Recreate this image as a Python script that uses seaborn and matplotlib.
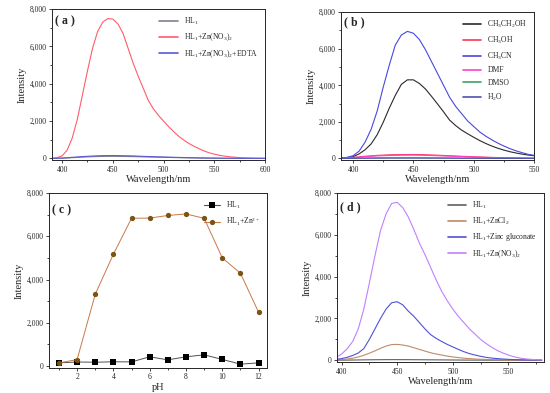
import numpy as np
import pandas as pd
import matplotlib
matplotlib.use('Agg')
import matplotlib.pyplot as plt
from matplotlib.ticker import MultipleLocator, FuncFormatter
import seaborn as sns

sns.set_style('ticks')
plt.rcParams['font.family'] = ['Liberation Serif', 'DejaVu Serif']
plt.rcParams['mathtext.fontset'] = 'custom'
plt.rcParams['mathtext.rm'] = 'Liberation Serif'
plt.rcParams['mathtext.it'] = 'Liberation Serif:italic'

# ---- panel (a) data, 5 nm steps ----
wl_a = np.arange(390, 605, 5)
a_zn = [10, 40, 140, 450, 1100, 2100, 3400, 4700, 5900, 6800, 7300, 7490, 7460, 7200,
        6700, 5900, 5100, 4400, 3750, 3100, 2650, 2300, 2000, 1700, 1430, 1180, 980,
        800, 650, 520, 400, 300, 230, 170, 125, 90, 65, 45, 32, 22, 15, 10, 7]
wl_a_low = np.arange(390, 610, 10)
a_hl = [5, 15, 40, 70, 95, 110, 115, 108, 100, 85, 72, 60, 48, 37, 28, 20, 14, 10, 7,
        5, 4, 3]
a_edta = [5, 20, 60, 100, 130, 150, 155, 145, 135, 112, 95, 78, 62, 48, 36, 26, 18,
          12, 8, 6, 4, 3]
labels_a = [r'HL$_1$', r'HL$_1$+Zn(NO$_3$)$_2$', r'HL$_1$+Zn(NO$_3$)$_2$+EDTA']

# ---- panel (b) data ----
wl_b = np.arange(390, 555, 5)
b_mecn = [20, 60, 150, 400, 900, 1600, 2600, 3900, 5100, 6200, 6750, 6950, 6850, 6500,
          5950, 5300, 4650, 4000, 3350, 2850, 2450, 2050, 1750, 1450, 1220, 1020, 840,
          680, 540, 420, 320, 230, 170]
b_etoh = [20, 50, 100, 250, 480, 800, 1300, 1980, 2750, 3450, 4050, 4300, 4300, 4100,
          3800, 3400, 2980, 2550, 2100, 1800, 1550, 1350, 1160, 980, 820, 680, 560,
          460, 370, 300, 240, 190, 150]
wl_b_low = np.arange(390, 560, 10)
b_meoh = [20, 60, 120, 170, 200, 215, 220, 205, 180, 150, 120, 95, 70, 50, 35, 25, 15]
b_dmf = [15, 50, 100, 140, 165, 180, 185, 172, 150, 125, 100, 78, 58, 42, 30, 20, 12]
b_dmso = [5, 15, 25, 32, 36, 38, 38, 35, 31, 27, 22, 18, 14, 10, 8, 6, 4]
b_h2o = [3, 8, 14, 18, 21, 22, 22, 20, 18, 15, 12, 10, 8, 6, 5, 4, 3]
labels_b = [r'CH$_3$CH$_2$OH', r'CH$_3$OH', r'CH$_3$CN', 'DMF', 'DMSO', r'H$_2$O']

# ---- panel (c) data ----
ph = [1, 2, 3, 4, 5, 6, 7, 8, 9, 10, 11, 12]
c_hl = [150, 190, 180, 200, 195, 430, 290, 430, 520, 310, 90, 150]
c_zn = [150, 300, 3320, 5170, 6830, 6840, 6960, 7030, 6830, 5000, 4290, 2490]
labels_c = [r'HL$_1$', r'HL$_1$+Zn$^{2+}$']

# ---- panel (d) data ----
wl_d = np.arange(390, 585, 5)
d_no3 = [60, 130, 300, 550, 900, 1500, 2450, 3700, 5000, 6200, 7000, 7500, 7550, 7300,
         6850, 6250, 5600, 5050, 4450, 3850, 3300, 2850, 2450, 2100, 1800, 1500, 1250,
         1000, 800, 620, 470, 350, 250, 170, 110, 70, 45, 30, 20]
d_glu = [20, 45, 80, 140, 230, 350, 560, 1000, 1500, 2000, 2450, 2750, 2800, 2650,
         2350, 2100, 1800, 1500, 1230, 1050, 900, 760, 640, 520, 410, 320, 250, 190,
         140, 105, 80, 60, 45, 32, 24, 18, 13, 10, 8]
d_cl = [5, 15, 30, 60, 100, 160, 240, 340, 450, 570, 680, 750, 760, 730, 680, 600, 520,
        440, 360, 300, 250, 200, 160, 130, 100, 80, 60, 48, 38, 30, 23, 18, 14, 10, 8,
        6, 5, 4, 3]
wl_d_low = np.arange(390, 590, 10)
d_hl = [2, 5, 12, 20, 26, 30, 31, 29, 26, 22, 18, 14, 10, 8, 6, 4, 3, 2, 1, 1]
labels_d = [r'HL$_1$', r'HL$_1$+ZnCl$_2$', r'HL$_1$+Zinc gluconate', r'HL$_1$+Zn(NO$_3$)$_2$']


def long_df(pairs, labels):
    parts = [pd.DataFrame({'x': x, 'y': y, 'series': lab}) for (x, y), lab in zip(pairs, labels)]
    return pd.concat(parts, ignore_index=True)


df_a = long_df([(wl_a_low, a_hl), (wl_a, a_zn), (wl_a_low, a_edta)], labels_a)
df_b = long_df([(wl_b, b_etoh), (wl_b_low, b_meoh), (wl_b, b_mecn), (wl_b_low, b_dmf),
                (wl_b_low, b_dmso), (wl_b_low, b_h2o)], labels_b)
df_c = long_df([(ph, c_hl), (ph, c_zn)], labels_c)
df_d = long_df([(wl_d_low, d_hl), (wl_d, d_cl), (wl_d, d_glu), (wl_d, d_no3)], labels_d)

fig = plt.figure(figsize=(5.5, 3.93), dpi=100)
ax_a = fig.add_axes([0.0945, 0.593, 0.3875, 0.384])
ax_b = fig.add_axes([0.62, 0.593, 0.351, 0.376])
ax_c = fig.add_axes([0.089, 0.064, 0.396, 0.445])
ax_d = fig.add_axes([0.613, 0.079, 0.376, 0.430])

fmt = FuncFormatter(lambda v, p: f'{int(v):,}')


def style(ax, xlabel, xmaj, xmin, letter, lx, ly, hl=2.4):
    ax.set_ylim(-80, 8000)
    ax.yaxis.set_major_locator(MultipleLocator(2000))
    ax.yaxis.set_minor_locator(MultipleLocator(1000))
    ax.yaxis.set_major_formatter(fmt)
    ax.xaxis.set_major_locator(MultipleLocator(xmaj))
    ax.xaxis.set_minor_locator(MultipleLocator(xmin))
    ax.tick_params(which='both', direction='out', labelsize=5.5, width=0.6, pad=1.5)
    ax.tick_params(which='major', length=2.5)
    ax.tick_params(which='minor', length=1.5)
    for s in ax.spines.values():
        s.set_linewidth(0.7)
    ax.set_xlabel(xlabel, fontsize=7.5, labelpad=1)
    ax.set_ylabel('Intensity', fontsize=7.5, labelpad=2)
    ax.text(lx, ly, f'( {letter} )', transform=ax.transAxes, fontsize=8.5,
            fontweight='bold', va='center')
    sns.move_legend(ax, 'upper right', frameon=False, fontsize=5.5, handlelength=hl,
                    labelspacing=0.6, borderaxespad=0.5, title=None)
    for h in ax.get_legend().legend_handles:
        h.set_linewidth(1.2)


# (a)
pal_a = dict(zip(labels_a, ['#80808c', '#ff5c6c', '#5a5ad0']))
sns.lineplot(data=df_a, x='x', y='y', hue='series', palette=pal_a, lw=0.8, ax=ax_a)
ax_a.set_xlim(390, 600)
style(ax_a, 'Wavelength/nm', 50, 25, 'a', 0.015, 0.92)

# (b)
pal_b = dict(zip(labels_b, ['#2a2a2a', '#ff3355', '#4848e0', '#ff40cc', '#40a060', '#5050b0']))
sns.lineplot(data=df_b, x='x', y='y', hue='series', palette=pal_b, lw=0.8, ax=ax_b)
ax_b.set_xlim(390, 550)
style(ax_b, 'Wavelength/nm', 50, 25, 'b', 0.015, 0.93)

# (c)
pal_c = dict(zip(labels_c, ['#505050', '#c8784a']))
sns.lineplot(data=df_c, x='x', y='y', hue='series', style='series', palette=pal_c,
             markers={labels_c[0]: 's', labels_c[1]: 'o'}, dashes=False,
             lw=0.7, markersize=3.8, markeredgewidth=0, ax=ax_c)
ax_c.set_xlim(0.45, 12.45)
style(ax_c, 'pH', 2, 1, 'c', 0.015, 0.9, hl=2.0)
face_c = ['black', '#7a5410']
for line, fc in zip(ax_c.lines, face_c):
    line.set_markerfacecolor(fc)
for h, fc in zip(ax_c.get_legend().legend_handles, face_c):
    h.set_linewidth(0.8)
    h.set_markerfacecolor(fc)
    h.set_markeredgecolor(fc)

# (d)
pal_d = dict(zip(labels_d, ['#606060', '#c08a6a', '#5050d8', '#c080ff']))
sns.lineplot(data=df_d, x='x', y='y', hue='series', palette=pal_d, lw=0.8, ax=ax_d)
ax_d.set_xlim(396, 582)
style(ax_d, 'Wavelength/nm', 50, 25, 'd', 0.015, 0.913)

fig.savefig('out.png', dpi=100)
